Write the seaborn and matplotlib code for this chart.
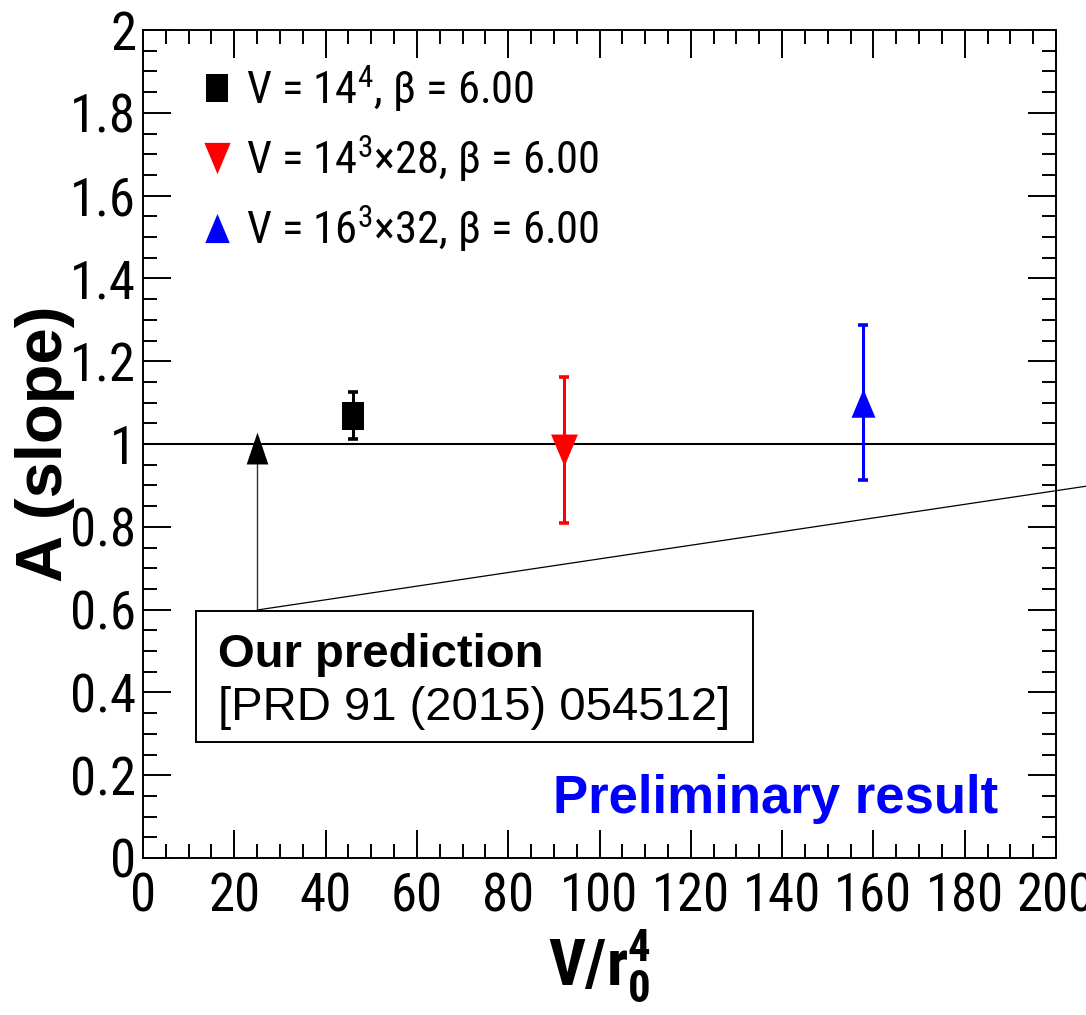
import numpy as np
import pandas as pd
import matplotlib
matplotlib.use("Agg")
import matplotlib.pyplot as plt
import seaborn as sns
from matplotlib import font_manager
from matplotlib.path import Path
from matplotlib.lines import Line2D
from matplotlib.patches import Rectangle
from matplotlib.ticker import MultipleLocator, FixedLocator, FixedFormatter

# ---- data -------------------------------------------------------------
series_labels = [
    r"V = 14$^{4}$, β = 6.00",
    r"V = 14$^{3}$×28, β = 6.00",
    r"V = 16$^{3}$×32, β = 6.00",
]
series_colors = ["#000000", "#ff0000", "#0000ff"]
vol_r0 = [46.0, 92.2, 157.7]          # V / r0^4
slope_A = [1.068, 0.985, 1.100]        # fitted slope A
slope_err = [0.057, 0.177, 0.187]      # uncertainty on A

pred_x = 25.0                          # prediction position
pred_A = 0.99                          # predicted slope
pred_from = 0.599                      # arrow tail
ref_level = 1.0                        # reference line A = 1
guide_x = [25.0, 209.6]                # guide line to the right
guide_y = [0.599, 0.903]

x_ticks = [0, 20, 40, 60, 80, 100, 120, 140, 160, 180, 200]
x_ticklabels = ["0", "20", "40", "60", "80", "100", "120", "140", "160", "180", "200"]
y_ticks = [0, 0.2, 0.4, 0.6, 0.8, 1.0, 1.2, 1.4, 1.6, 1.8, 2.0]
y_ticklabels = ["0", "0.2", "0.4", "0.6", "0.8", "1", "1.2", "1.4", "1.6", "1.8", "2"]

# ---- style ------------------------------------------------------------
sns.set_theme(style="ticks")

# prefer a condensed sans for the axis texts; fall back to a regular sans at a smaller size
entries = font_manager.fontManager.ttflist
narrow = None
for want in ["Liberation Sans Narrow", "DejaVu Sans Condensed", "Roboto Condensed",
             "Open Sans Condensed", "Noto Sans Condensed"]:
    if any(f.name == want for f in entries):
        narrow = want
        break
if narrow is None:
    NARROW, SC = "Liberation Sans", 0.86
else:
    NARROW, SC = narrow, 1.0

plt.rcParams["font.family"] = [NARROW, "DejaVu Sans"]
plt.rcParams["mathtext.fontset"] = "custom"
plt.rcParams["mathtext.rm"] = NARROW
plt.rcParams["mathtext.bf"] = NARROW + ":bold"
plt.rcParams["mathtext.it"] = NARROW + ":italic"
for key in ["text.color", "axes.labelcolor", "xtick.color", "ytick.color", "axes.edgecolor"]:
    plt.rcParams[key] = "black"

W, H = 1086, 1015
fig = plt.figure(figsize=(W / 100, H / 100), dpi=100)
ax = fig.add_axes([143 / W, 1 - 858 / H, (1056 - 143) / W, (858 - 30) / H])

# marker shapes (slightly narrow, as drawn by ROOT)
sq = Path([(-0.4, -0.5), (0.4, -0.5), (0.4, 0.5), (-0.4, 0.5), (-0.4, -0.5)], closed=True)
tri_dn = Path([(-0.42, 0.5), (0.42, 0.5), (0.0, -0.5), (-0.42, 0.5)], closed=True)
tri_up = Path([(-0.42, -0.5), (0.42, -0.5), (0.0, 0.5), (-0.42, -0.5)], closed=True)
head_up = Path([(-0.34, -0.5), (0.34, -0.5), (0.0, 0.5), (-0.34, -0.5)], closed=True)
markers = [sq, tri_dn, tri_up]
msizes = [20, 23, 20.5]

# reference line and guide lines
ax.axhline(ref_level, color="black", lw=1.5, zorder=2)
ax.plot(guide_x, guide_y, color="black", lw=0.9, clip_on=False, zorder=2)
ax.plot([pred_x, pred_x], [pred_from, pred_A], color="#333333", lw=1.0, zorder=2)
sns.scatterplot(x=[pred_x], y=[pred_A], marker=head_up, s=23 ** 2, color="black",
                edgecolor="black", linewidth=0, ax=ax, zorder=4, legend=False)

# data points with error bars
for xi, yi, ei, c, m, ms in zip(vol_r0, slope_A, slope_err, series_colors, markers, msizes):
    ax.errorbar([xi], [yi], yerr=[ei], fmt="none", ecolor=c, elinewidth=2.2,
                capsize=3.3, capthick=2.6, zorder=3)
    sns.scatterplot(x=[xi], y=[yi], marker=m, s=ms ** 2, color=c, edgecolor=c,
                    linewidth=0, ax=ax, zorder=4, legend=False)

# axes
ax.set_xlim(0, 200)
ax.set_ylim(0, 2)
ax.xaxis.set_major_locator(FixedLocator(x_ticks))
ax.xaxis.set_major_formatter(FixedFormatter(x_ticklabels))
ax.yaxis.set_major_locator(FixedLocator(y_ticks))
ax.yaxis.set_major_formatter(FixedFormatter(y_ticklabels))
ax.xaxis.set_minor_locator(MultipleLocator(5))
ax.yaxis.set_minor_locator(MultipleLocator(0.05))
ax.tick_params(which="both", direction="in", top=True, right=True, width=1.4, color="black")
ax.tick_params(which="major", length=20)
ax.tick_params(which="minor", length=10)
ax.tick_params(axis="x", which="major", labelsize=38 * SC, pad=10)
ax.tick_params(axis="y", which="major", labelsize=38 * SC, pad=5)
for sp in ax.spines.values():
    sp.set_linewidth(1.4)
    sp.set_color("black")

ax.set_xlabel(r"$\mathbf{V/r}_{\mathbf{0}}^{\mathbf{4}}$", fontsize=46 * SC)
ax.xaxis.set_label_coords(0.5, (858 - 928) / 827)
ax.set_ylabel("A (slope)", fontsize=47, fontweight="bold", family=["Liberation Sans", "DejaVu Sans"])
ax.yaxis.set_label_coords((75 - 143) / 913, 0.5)

# legend
leg_fs = 32 * SC
handles = [Line2D([], [], marker=m, linestyle="none", markersize=s, color=c, markeredgewidth=0)
           for m, s, c in zip(markers, [19.5, 22.5, 21], series_colors)]
ax.legend(handles, series_labels, loc="upper left",
          bbox_to_anchor=((201 - 143) / 913, (858 - 64) / 827),
          frameon=False, fontsize=leg_fs, handlelength=0.72, handletextpad=0.29,
          labelspacing=0.44, borderpad=0, borderaxespad=0)

# prediction box
ax.add_patch(Rectangle(((196 - 143) / 913, (858 - 742) / 827), (753 - 196) / 913, (742 - 611) / 827,
                       transform=ax.transAxes, fill=True, facecolor="white",
                       edgecolor="black", lw=1.4, zorder=5))
ax.text((218 - 143) / 913, (858 - 667) / 827, "Our prediction", transform=ax.transAxes,
        fontsize=34, fontweight="bold", family=["Liberation Sans", "DejaVu Sans"],
        va="baseline", ha="left", zorder=6)
ax.text((218 - 143) / 913, (858 - 720) / 827, "[PRD 91 (2015) 054512]", transform=ax.transAxes,
        fontsize=34, family=["Liberation Sans", "DejaVu Sans"],
        va="baseline", ha="left", zorder=6)

ax.text((553 - 143) / 913, (858 - 813) / 827, "Preliminary result", transform=ax.transAxes,
        fontsize=38, fontweight="bold", color="#0000ff", family=["Liberation Sans", "DejaVu Sans"],
        va="baseline", ha="left", zorder=6)

fig.savefig("out.png", dpi=100)
